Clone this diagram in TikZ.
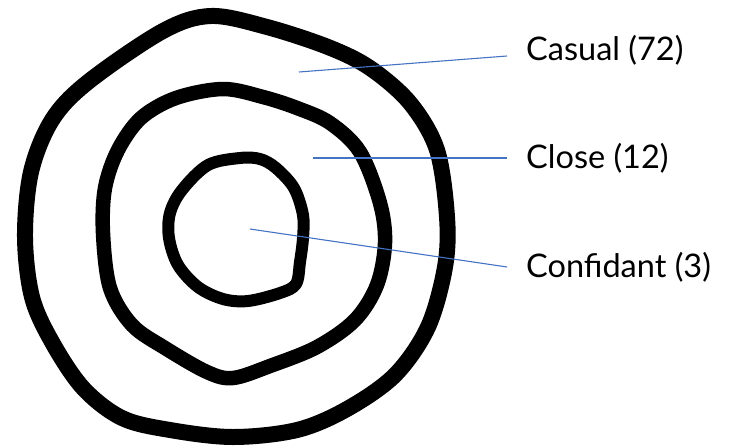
\documentclass[tikz,border=0pt]{standalone}
\usepackage{fontspec}
\setmainfont{Lato}
\definecolor{leaderblue}{RGB}{68,114,196}
\begin{document}
\begin{tikzpicture}[x=1pt,y=-1pt,
  ring/.style={draw=black, line width=#1, line join=round},
  leader/.style={draw=leaderblue, line width=1.1pt},
  lab/.style={anchor=west, font=\fontsize{32.5}{38}\selectfont, inner xsep=19pt, inner ysep=0pt}]
\useasboundingbox (0,0) rectangle (731,445);
% outer ring
\draw[ring=16pt] plot[smooth cycle, tension=0.55] coordinates {
 (211,16) (163,31) (88,82) (52,120) (31,172) (25,237) (32,297) (52,342)
 (83,388) (122,418) (170,430) (233,437) (297,430) (347,409) (395,375)
 (428,327) (445,267) (447,217) (437,150) (410,103) (370,68) (328,47) (267,27)};
% middle ring
\draw[ring=14.5pt] plot[smooth cycle, tension=0.55] coordinates {
 (223,89) (176,98) (141,118) (118,150) (105,188) (103,233) (110,288) (132,325)
 (165,348) (207,372) (233,378) (270,366) (317,347) (355,320) (377,285)
 (385,243) (380,203) (360,152) (330,123) (297,108) (263,97)};
% inner ring
\draw[ring=12pt] plot[smooth cycle, tension=0.55] coordinates {
 (240,158) (208,165) (182,190) (170,213) (169,238) (178,265) (198,287)
 (223,299) (248,301) (280,293) (296,284) (300,262) (303,238) (303,215)
 (294,188) (276,168) (260,159)};
% labels
\node[lab] (casual) at (507,50) {Casual (72)};
\node[lab] (close) at (507,158) {Close (12)};
\node[lab] (confidant) at (507,267) {Confidant (3)};
\coordinate (pcasual) at (299,72);
\coordinate (pclose) at (313,158);
\coordinate (pconf) at (250,229);
\draw[leader] (pcasual) -- ([yshift=-6pt]casual.west);
\draw[leader] (pclose) -- (close.west);
\draw[leader] (pconf) -- (confidant.west);
\end{tikzpicture}
\end{document}
